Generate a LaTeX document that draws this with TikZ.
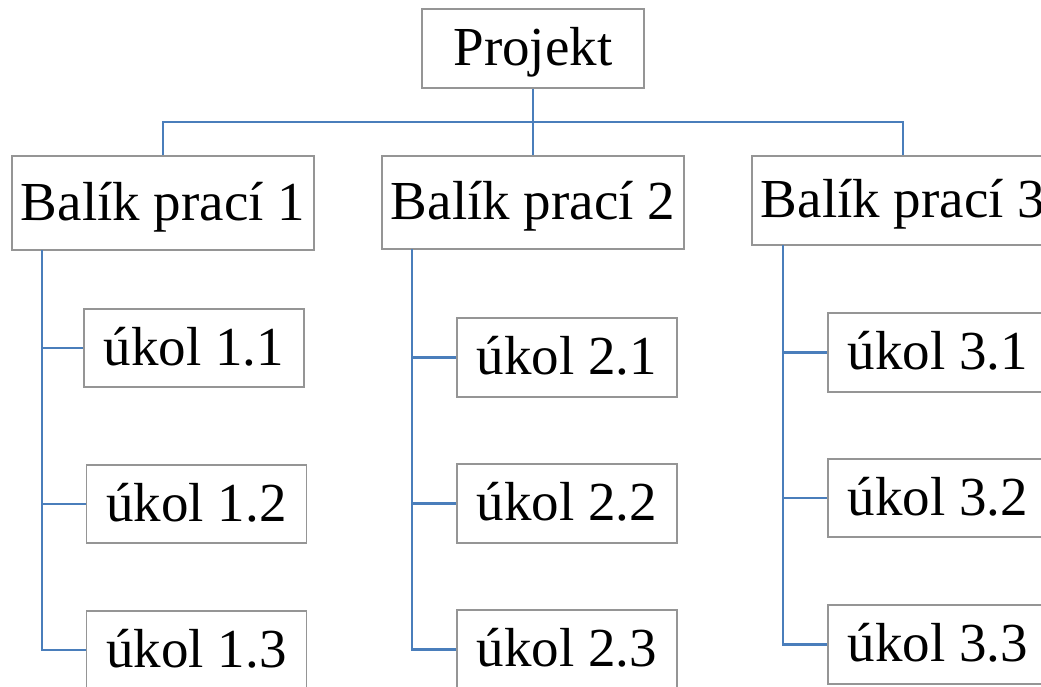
\documentclass[tikz,border=0pt]{standalone}
\usepackage{fontspec}
\setmainfont{Liberation Serif}
\definecolor{boxline}{HTML}{959595}
\definecolor{linkblue}{HTML}{4A7EBB}
\begin{document}
\begin{tikzpicture}[x=1pt,y=-1pt,
  box/.style={draw=boxline, line width=1.5pt, fill=white, inner sep=0pt,
    font=\fontsize{55}{60}\selectfont, text height=40pt, text depth=6pt,
    minimum width=#1},
  box/.default=220pt,
  link/.style={draw=linkblue, line width=2.5pt}]
\useasboundingbox (0,0) rectangle (1041,686);
\clip (0,0) rectangle (1041,686);

% top level
\node[box=222pt, minimum height=79pt] (p) at (533,48.5) {Projekt};

% work packages
\node[box=302pt, minimum height=94pt] (b1) at (163,203) {Balík prací 1};
\node[box=302pt, minimum height=93pt] (b2) at (533,202.5) {Balík prací 2};
\node[box=302pt, minimum height=89pt] (b3) at (903,200.5) {Balík prací 3};

% tasks
\node[box, minimum height=78pt] (t11) at (194,348) {úkol 1.1};
\node[box, minimum height=78pt] (t12) at (196.5,504) {úkol 1.2};
\node[box, minimum height=78pt] (t13) at (196.5,650) {úkol 1.3};
\node[box, minimum height=79pt] (t21) at (567,357.5) {úkol 2.1};
\node[box, minimum height=79pt] (t22) at (567,503.5) {úkol 2.2};
\node[box, minimum height=79pt] (t23) at (567,649.5) {úkol 2.3};
\node[box, minimum height=79pt] (t31) at (938,352.5) {úkol 3.1};
\node[box, minimum height=78pt] (t32) at (938,498) {úkol 3.2};
\node[box, minimum height=79pt] (t33) at (938,644.5) {úkol 3.3};

% bus under the project box
\coordinate (bus) at (533,122);
\draw[link] (p.south) -- (b2.north);
\draw[link] (b1.north) |- (bus) -| (b3.north);

% spines below each work package
\coordinate (s1) at (42,250);
\coordinate (s2) at (412,249);
\coordinate (s3) at (783,245);
\draw[link] (s1) |- (t13.west);
\draw[link] (s1 |- t11.west) -- (t11.west);
\draw[link] (s1 |- t12.west) -- (t12.west);
\draw[link] (s2) |- (t23.west);
\draw[link] (s2 |- t21.west) -- (t21.west);
\draw[link] (s2 |- t22.west) -- (t22.west);
\draw[link] (s3) |- (t33.west);
\draw[link] (s3 |- t31.west) -- (t31.west);
\draw[link] (s3 |- t32.west) -- (t32.west);
\end{tikzpicture}
\end{document}
